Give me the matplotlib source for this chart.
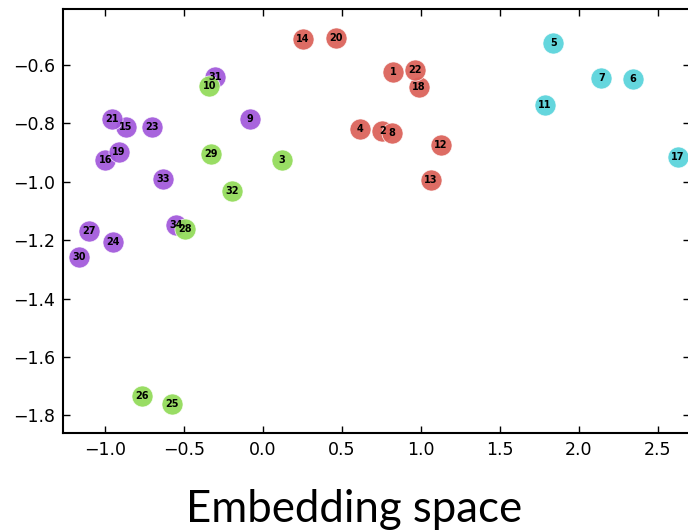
import matplotlib
matplotlib.use("Agg")
import matplotlib.pyplot as plt
import numpy as np

plt.rcParams['font.family'] = ['DejaVu Sans']
plt.rcParams['axes.unicode_minus'] = True

# node ids and 2-d embedding coordinates, per cluster
purple_ids = [9, 15, 16, 19, 21, 23, 24, 27, 30, 31, 33, 34]
purple_x = [-0.080, -0.865, -0.996, -0.909, -0.952, -0.703, -0.945, -1.101, -1.161, -0.302, -0.629, -0.549]
purple_y = [-0.783, -0.811, -0.926, -0.899, -0.783, -0.811, -1.207, -1.167, -1.256, -0.642, -0.991, -1.148]

red_ids = [1, 2, 4, 8, 12, 13, 14, 18, 20, 22]
red_x = [0.827, 0.757, 0.618, 0.816, 1.127, 1.065, 0.253, 0.989, 0.464, 0.966]
red_y = [-0.624, -0.826, -0.819, -0.832, -0.873, -0.994, -0.512, -0.676, -0.508, -0.616]

cyan_ids = [5, 6, 7, 11, 17]
cyan_x = [1.839, 2.342, 2.143, 1.785, 2.628]
cyan_y = [-0.524, -0.647, -0.643, -0.738, -0.914]

green_ids = [3, 10, 25, 26, 28, 29, 32]
green_x = [0.120, -0.338, -0.572, -0.762, -0.490, -0.329, -0.196]
green_y = [-0.926, -0.671, -1.759, -1.734, -1.163, -0.906, -1.030]

groups = [
    (purple_ids, purple_x, purple_y, "#a157db"),
    (red_ids, red_x, red_y, "#db5f57"),
    (cyan_ids, cyan_x, cyan_y, "#57d3db"),
    (green_ids, green_x, green_y, "#91db57"),
]

fig = plt.figure(figsize=(6.88, 5.30), dpi=100)
W, H = 688, 530
# axes runs a bit past the right edge, as in the reference crop
ax = fig.add_axes([63.3 / W, (H - 433) / H, (690 - 63.3) / W, 424 / H])

for ids, xs, ys, col in groups:
    ax.scatter(xs, ys, s=230, c=col, alpha=0.92, edgecolors="white", linewidths=0.5, zorder=2)

for ids, xs, ys, col in groups:
    for i, x, y in zip(ids, xs, ys):
        ax.text(x, y, str(i), fontsize=7, fontweight="bold", ha="center", va="center", zorder=3)

ax.set_xlim(-1.262, 2.704)
ax.set_ylim(-1.860, -0.408)
ax.set_xticks([-1.0, -0.5, 0.0, 0.5, 1.0, 1.5, 2.0, 2.5])
ax.set_yticks([-1.8, -1.6, -1.4, -1.2, -1.0, -0.8, -0.6])
ax.tick_params(direction="in", top=True, right=True, length=5, width=1, labelsize=12.5, pad=6)
for sp in ax.spines.values():
    sp.set_linewidth(1.5)

fig.text(354 / W, 1 - 522 / H, "Embedding space", ha="center", va="baseline",
         fontsize=31.5, family="Lato")

fig.savefig("out.png", dpi=100)
